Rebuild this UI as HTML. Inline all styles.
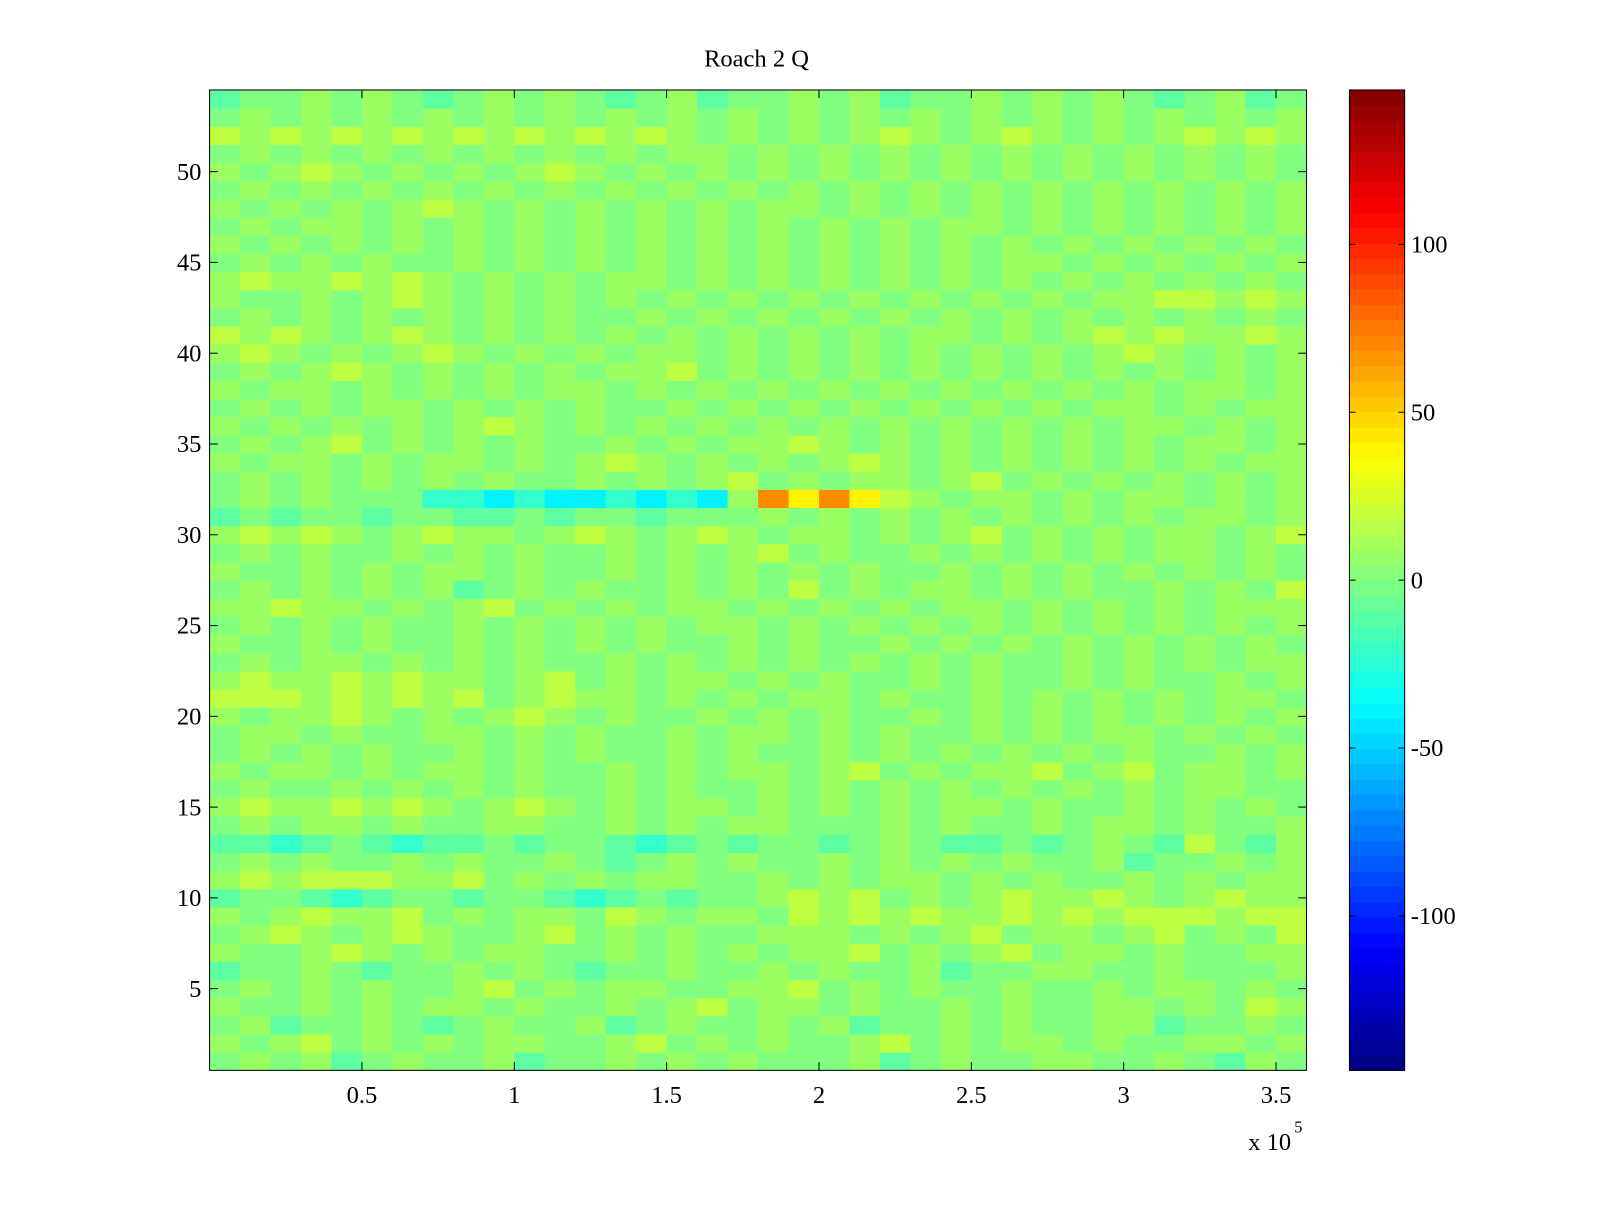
<!DOCTYPE html>
<html><head><meta charset="utf-8"><style>
html,body{margin:0;padding:0;background:#fff;}
svg text{font-family:"Liberation Serif",serif;font-size:24px;fill:#000;}
</style></head><body>
<svg id="chart" width="1600" height="1200" xmlns="http://www.w3.org/2000/svg">
<g transform="scale(1.0223)">
<text x="740" y="65" text-anchor="middle">Roach 2 Q</text>
<g id="cells"></g>
<rect x="205" y="88" width="1073" height="959" fill="none" stroke="#000" stroke-width="1"/>
<g id="axes"></g>
<g id="cbar"></g>
<text x="1221" y="1125">x 10</text>
<text x="1266" y="1108" style="font-size:16px">5</text>
</g>
</svg>
<script>
const levelMap = {a:-60,b:-40,c:-22,d:-10,e:0,f:8,g:18,h:40,i:70,j:90};
const rowStrings = [
"efefdefeefdeefefefeeefdefeeffeefedfe",
"fefgefefeffeefgefefeefgefeffefeeffef",
"efdeefedefeefdefeefefdeefefeeffdeefe",
"feefefeffefeefefgeffefeefefeeffefegf",
"efefefeefgefeffeeffgefefeefeefeffefe",
"deefedeefefedeefeefefeefdeeffeefeeef",
"feefgfefeffeefefefeffgefefgeffefeeff",
"efgfefgfeefgefefeefffefefgeffefgefeg",
"fefgffgefeffegfeffegfgfgffgfgfgggfgg",
"deedcdeedeedcdedeefgfgefefgffgfefgff",
"fgfgggffgefefeffeefefeffefefeefefeff",
"efefeefefeefedefefeefefefefeefdeefef",
"ddcdedcddedeedcdedeedefeddedefedgedf",
"efeffefeeffeefefeffeeefefeefeffefeef",
"fgffgfgfefgfefeffefefefeffefeefefefe",
"efeefefefefeefefeefefefefefefefeffee",
"feffefeffefeefefeffefgefeffgefgeffef",
"efefefeefefefeefefeefefefefefefeefef",
"effefeeffefefeefeffefefeefefeffefefe",
"feffgfefefgfefeefefefeefefefefefefef",
"gggfgfgfgefgffefefeffefeefefefefeffe",
"fgffgfgffefgefeffefefeefefeefefeefef",
"efeffefefefeefefefefefefefeefefefeff",
"feefefeefefefefeefefeefefefefefefefe",
"efefefeefefefefeffefefefefefefefefef",
"ffgffefefgefefeffefefefeffefefefefff",
"efefefefdefefeefefegefeffefefeefefeg",
"feefefeffefeefefefefefeefefefefefefe",
"efefeefefefeefefefgefeefefefefeffefe",
"fgfgfefgffefgfefgfeffefefgefefeffefg",
"dedeedeeddedeedeeefefefefefefefeffef",
"efefeeeccbcbbcbcbfihihgfeffefeffefeff",
"efefefefefeefefefgefeffefgefefefefef",
"feffefeffefefgfefefefgfefefefefefeff",
"efefgefefefeefefeffgfefefefefefeffef",
"fefefefefgfefefefefefefefefefeffefef",
"efefeffefefefeefefefefefefefeffefeff",
"feffefefefeffefefefefefefefefefeffef",
"efefgfefefefeffgefefefefefefefefefef",
"fgfefefgfefefeffefefefefefefefgfefef",
"gfgfefgfefefefefefefefeffefefgfgffgf",
"efefefefefefeefefefefefefefefefefefe",
"feefefgfefefefefefefefefefefeffggfgf",
"fgffgfgfefefeffefefefefefefefefefefe",
"efefefeefefefefefefefefefeffefefefef",
"fefefefefefefefefefefefefefefefefefe",
"efeffefefefefefefefefefeffefefefefef",
"fefefefgfefefefefeffefefefefefefefef",
"efefefefefefefefefefefefefefefefefef",
"fefgfefefefgfefefefefefefefefefefefe",
"efefefefefefefeffefefefefefefefefefe",
"gfgfgfgfgfgfgfgfefefefgfefgfefefgfgf",
"efefefefefefefefefefefefefefefefefef",
"deefefedefefedefdeefefdeefefefedefde"];
const xTicks = [0.5,1,1.5,2,2.5,3,3.5];
const xTickLabels = ["0.5","1","1.5","2","2.5","3","3.5"];
const yTicks = [5,10,15,20,25,30,35,40,45,50];
const cbTicks = [-100,-50,0,50,100];
const NS="http://www.w3.org/2000/svg";
const X0=205,X1=1278,Y0=88,Y1=1047,XMAX=3.6,NB=36;
const xs=v=>X0+(v/XMAX)*(X1-X0);
const ys=r=>Y1-(r-0.5)/54*(Y1-Y0);
const CMIN=-146,CMAX=146;
function jet(v){let t=(v-CMIN)/(CMAX-CMIN);t=Math.max(0,Math.min(1,t));
 const f=x=>Math.max(0,Math.min(1,1.5-Math.abs(4*t-x)));
 return `rgb(${Math.round(255*f(3))},${Math.round(255*f(2))},${Math.round(255*f(1))})`;}
function mk(tag,attrs,parent){const e=document.createElementNS(NS,tag);for(const k in attrs)e.setAttribute(k,attrs[k]);parent.appendChild(e);return e;}
const cells=document.getElementById('cells');
rowStrings.forEach((s,ri)=>{const r=ri+1;
 for(let b=0;b<NB;b++){const ch=s[b]||'e';const v=levelMap[ch];
  const xa=xs(b*XMAX/NB),xb=xs((b+1)*XMAX/NB);
  const e=mk('rect',{x:xa,y:ys(r+0.5),width:xb-xa+0.5,height:ys(r-0.5)-ys(r+0.5)+0.5,fill:jet(v)},cells);
  
  }});
const axes=document.getElementById('axes');
xTicks.forEach((t,i)=>{const x=xs(t);
 mk('line',{x1:x,x2:x,y1:Y1,y2:Y1-8,stroke:'#000'},axes);
 mk('line',{x1:x,x2:x,y1:Y0,y2:Y0+8,stroke:'#000'},axes);
 const tx=mk('text',{x:x,y:1079,'text-anchor':'middle'},axes);tx.textContent=xTickLabels[i];
 
 });
yTicks.forEach(t=>{const y=ys(t);
 mk('line',{x1:X0,x2:X0+8,y1:y,y2:y,stroke:'#000'},axes);
 mk('line',{x1:X1,x2:X1-8,y1:y,y2:y,stroke:'#000'},axes);
 const tx=mk('text',{x:197,y:y+8,'text-anchor':'end'},axes);tx.textContent=String(t);
 
 });
const cb=document.getElementById('cbar');
const CX0=1320,CX1=1374,N=64;
const cy=v=>Y1-(v-CMIN)/(CMAX-CMIN)*(Y1-Y0);
for(let i=0;i<N;i++){const va=CMIN+i*(CMAX-CMIN)/N,vb=CMIN+(i+1)*(CMAX-CMIN)/N;
 const e=mk('rect',{x:CX0,y:cy(vb),width:CX1-CX0,height:cy(va)-cy(vb)+0.5,fill:jet((va+vb)/2)},cb);
 
 }
mk('rect',{x:CX0,y:Y0,width:CX1-CX0,height:Y1-Y0,fill:'none',stroke:'#000'},cb);
cbTicks.forEach(t=>{const y=cy(t);
 mk('line',{x1:CX0,x2:CX0+6,y1:y,y2:y,stroke:'#000'},cb);
 mk('line',{x1:CX1,x2:CX1-6,y1:y,y2:y,stroke:'#000'},cb);
 const tx=mk('text',{x:1380,y:y+8},cb);tx.textContent=String(t);
 
 });
</script>
</body></html>
